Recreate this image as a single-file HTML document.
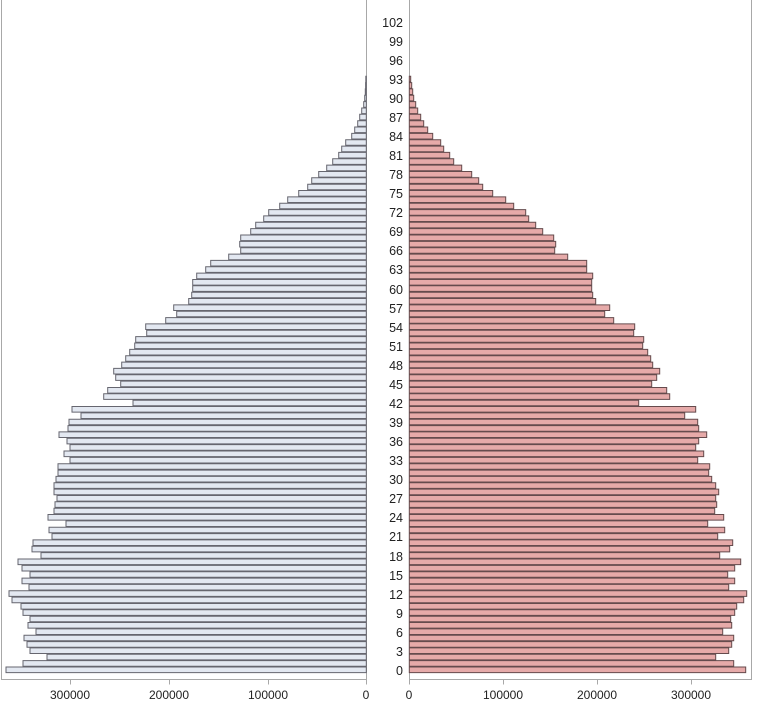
<!DOCTYPE html>
<html><head><meta charset="utf-8"><style>
html,body{margin:0;padding:0;background:#fff;}
svg{display:block;font-family:"Liberation Sans",Arial,sans-serif;}
</style></head><body>
<svg width="760" height="703" viewBox="0 0 760 703" xmlns="http://www.w3.org/2000/svg">
<g fill="none" stroke="#a8a8a8" stroke-width="1">
<path d="M1.5,0V679.5H366.5V0"/>
<path d="M409.5,0V679.5H751.5V0"/>
<path d="M70.5,679.5v5M169.5,679.5v5M268.5,679.5v5M366.5,679.5v5M409.5,679.5v5M503.5,679.5v5M597.5,679.5v5M691.5,679.5v5"/>
</g>
<g font-size="12" fill="#222" text-anchor="middle">
<text x="70" y="699">300000</text><text x="169" y="699">200000</text><text x="268" y="699">100000</text><text x="366" y="699">0</text>
<text x="409" y="699">0</text><text x="503" y="699">100000</text><text x="597" y="699">200000</text><text x="691" y="699">300000</text>
</g>
<g font-size="12.5" fill="#222" text-anchor="end">
<text x="403" y="675">0</text><text x="403" y="656">3</text><text x="403" y="637">6</text><text x="403" y="618">9</text>
<text x="403" y="599">12</text><text x="403" y="580">15</text><text x="403" y="561">18</text><text x="403" y="541">21</text>
<text x="403" y="522">24</text><text x="403" y="503">27</text><text x="403" y="484">30</text><text x="403" y="465">33</text>
<text x="403" y="446">36</text><text x="403" y="427">39</text><text x="403" y="408">42</text><text x="403" y="389">45</text>
<text x="403" y="370">48</text><text x="403" y="351">51</text><text x="403" y="332">54</text><text x="403" y="313">57</text>
<text x="403" y="294">60</text><text x="403" y="274">63</text><text x="403" y="255">66</text><text x="403" y="236">69</text>
<text x="403" y="217">72</text><text x="403" y="198">75</text><text x="403" y="179">78</text><text x="403" y="160">81</text>
<text x="403" y="141">84</text><text x="403" y="122">87</text><text x="403" y="103">90</text><text x="403" y="84">93</text>
<text x="403" y="65">96</text><text x="403" y="46">99</text><text x="403" y="27">102</text>
</g>
<path fill="#e3e8f1" stroke="#66666f" stroke-width="1" d="M6 667H366.3v5.6H6z M23 660.6H366.3v5.6H23z M47 654.3H366.3v5.6H47z M30 647.9H366.3v5.6H30z M27 641.6H366.3v5.6H27z M24 635.2H366.3v5.6H24z M36 628.9H366.3v5.6H36z M28 622.5H366.3v5.6H28z M30 616.2H366.3v5.6H30z M23 609.8H366.3v5.6H23z M21 603.5H366.3v5.6H21z M12 597.1H366.3v5.6H12z M9 590.8H366.3v5.6H9z M29 584.4H366.3v5.6H29z M22 578.1H366.3v5.6H22z M30 571.7H366.3v5.6H30z M22 565.4H366.3v5.6H22z M18 559H366.3v5.6H18z M41 552.6H366.3v5.6H41z M32 546.3H366.3v5.6H32z M33 539.9H366.3v5.6H33z M52 533.6H366.3v5.6H52z M49 527.2H366.3v5.6H49z M66 520.9H366.3v5.6H66z M48 514.5H366.3v5.6H48z M54 508.2H366.3v5.6H54z M55 501.8H366.3v5.6H55z M57 495.5H366.3v5.6H57z M54 489.1H366.3v5.6H54z M54 482.8H366.3v5.6H54z M56 476.4H366.3v5.6H56z M58 470.1H366.3v5.6H58z M58 463.7H366.3v5.6H58z M70 457.4H366.3v5.6H70z M64 451H366.3v5.6H64z M70 444.6H366.3v5.6H70z M67 438.3H366.3v5.6H67z M59 431.9H366.3v5.6H59z M68 425.6H366.3v5.6H68z M69 419.2H366.3v5.6H69z M81 412.9H366.3v5.6H81z M72 406.5H366.3v5.6H72z M133 400.2H366.3v5.6H133z M103.7 393.8H366.3v5.6H103.7z M107.7 387.5H366.3v5.6H107.7z M120.7 381.1H366.3v5.6H120.7z M115.7 374.8H366.3v5.6H115.7z M113.7 368.4H366.3v5.6H113.7z M121.7 362.1H366.3v5.6H121.7z M125.7 355.7H366.3v5.6H125.7z M129.7 349.4H366.3v5.6H129.7z M134.7 343H366.3v5.6H134.7z M135.7 336.6H366.3v5.6H135.7z M146.7 330.3H366.3v5.6H146.7z M145.7 323.9H366.3v5.6H145.7z M165.7 317.6H366.3v5.6H165.7z M176.7 311.2H366.3v5.6H176.7z M173.7 304.9H366.3v5.6H173.7z M188.7 298.5H366.3v5.6H188.7z M191.7 292.2H366.3v5.6H191.7z M192.7 285.8H366.3v5.6H192.7z M192.7 279.5H366.3v5.6H192.7z M196.7 273.1H366.3v5.6H196.7z M205.7 266.8H366.3v5.6H205.7z M210.7 260.4H366.3v5.6H210.7z M228.7 254.1H366.3v5.6H228.7z M240.7 247.7H366.3v5.6H240.7z M239.7 241.4H366.3v5.6H239.7z M240.7 235H366.3v5.6H240.7z M250.7 228.6H366.3v5.6H250.7z M255.7 222.3H366.3v5.6H255.7z M263.7 215.9H366.3v5.6H263.7z M268.7 209.6H366.3v5.6H268.7z M279.7 203.2H366.3v5.6H279.7z M287.7 196.9H366.3v5.6H287.7z M298.7 190.5H366.3v5.6H298.7z M307.7 184.2H366.3v5.6H307.7z M311.7 177.8H366.3v5.6H311.7z M318.7 171.5H366.3v5.6H318.7z M326.7 165.1H366.3v5.6H326.7z M332.7 158.8H366.3v5.6H332.7z M338.7 152.4H366.3v5.6H338.7z M341.7 146.1H366.3v5.6H341.7z M345.7 139.7H366.3v5.6H345.7z M351.7 133.4H366.3v5.6H351.7z M354.7 127H366.3v5.6H354.7z M357.7 120.7H366.3v5.6H357.7z M359.7 114.3H366.3v5.6H359.7z M361.7 108H366.3v5.6H361.7z M363.7 101.6H366.3v5.6H363.7z M364.7 95.3H366.3v5.6H364.7z M365.3 88.9H366.3v5.6H365.3z M365.6 82.6H366.3v5.6H365.6z M365.8 76.2H366.3v5.6H365.8z"/>
<path fill="#e6aaa9" stroke="#654b4d" stroke-width="1" d="M409.3 667H745.7v5.6H409.3z M409.3 660.6H733.7v5.6H409.3z M409.3 654.3H715.7v5.6H409.3z M409.3 647.9H728.7v5.6H409.3z M409.3 641.6H731.7v5.6H409.3z M409.3 635.2H733.7v5.6H409.3z M409.3 628.9H722.7v5.6H409.3z M409.3 622.5H731.7v5.6H409.3z M409.3 616.2H730.7v5.6H409.3z M409.3 609.8H734.7v5.6H409.3z M409.3 603.5H736.7v5.6H409.3z M409.3 597.1H743.7v5.6H409.3z M409.3 590.8H746.7v5.6H409.3z M409.3 584.4H728.7v5.6H409.3z M409.3 578.1H734.7v5.6H409.3z M409.3 571.7H727.7v5.6H409.3z M409.3 565.4H734.7v5.6H409.3z M409.3 559H740.7v5.6H409.3z M409.3 552.6H719.7v5.6H409.3z M409.3 546.3H729.7v5.6H409.3z M409.3 539.9H732.7v5.6H409.3z M409.3 533.6H717.7v5.6H409.3z M409.3 527.2H724.7v5.6H409.3z M409.3 520.9H707.7v5.6H409.3z M409.3 514.5H723.7v5.6H409.3z M409.3 508.2H714.7v5.6H409.3z M409.3 501.8H716.7v5.6H409.3z M409.3 495.5H715.7v5.6H409.3z M409.3 489.1H718.7v5.6H409.3z M409.3 482.8H715.7v5.6H409.3z M409.3 476.4H711.7v5.6H409.3z M409.3 470.1H708.7v5.6H409.3z M409.3 463.7H709.7v5.6H409.3z M409.3 457.4H697.7v5.6H409.3z M409.3 451H703.7v5.6H409.3z M409.3 444.6H695.7v5.6H409.3z M409.3 438.3H698.7v5.6H409.3z M409.3 431.9H706.7v5.6H409.3z M409.3 425.6H698.7v5.6H409.3z M409.3 419.2H697.7v5.6H409.3z M409.3 412.9H684.7v5.6H409.3z M409.3 406.5H695.7v5.6H409.3z M409.3 400.2H638.7v5.6H409.3z M409.3 393.8H669.7v5.6H409.3z M409.3 387.5H666.7v5.6H409.3z M409.3 381.1H651.7v5.6H409.3z M409.3 374.8H656.7v5.6H409.3z M409.3 368.4H659.7v5.6H409.3z M409.3 362.1H652.7v5.6H409.3z M409.3 355.7H650.7v5.6H409.3z M409.3 349.4H647.7v5.6H409.3z M409.3 343H642.7v5.6H409.3z M409.3 336.6H643.7v5.6H409.3z M409.3 330.3H633.7v5.6H409.3z M409.3 323.9H634.7v5.6H409.3z M409.3 317.6H613.7v5.6H409.3z M409.3 311.2H604.7v5.6H409.3z M409.3 304.9H609.7v5.6H409.3z M409.3 298.5H595.7v5.6H409.3z M409.3 292.2H592.7v5.6H409.3z M409.3 285.8H591.7v5.6H409.3z M409.3 279.5H591.7v5.6H409.3z M409.3 273.1H592.7v5.6H409.3z M409.3 266.8H586.7v5.6H409.3z M409.3 260.4H586.7v5.6H409.3z M409.3 254.1H567.7v5.6H409.3z M409.3 247.7H554.7v5.6H409.3z M409.3 241.4H555.7v5.6H409.3z M409.3 235H553.7v5.6H409.3z M409.3 228.6H542.7v5.6H409.3z M409.3 222.3H535.7v5.6H409.3z M409.3 215.9H528.7v5.6H409.3z M409.3 209.6H525.7v5.6H409.3z M409.3 203.2H513.7v5.6H409.3z M409.3 196.9H505.7v5.6H409.3z M409.3 190.5H492.7v5.6H409.3z M409.3 184.2H482.7v5.6H409.3z M409.3 177.8H478.7v5.6H409.3z M409.3 171.5H471.7v5.6H409.3z M409.3 165.1H461.7v5.6H409.3z M409.3 158.8H453.7v5.6H409.3z M409.3 152.4H449.7v5.6H409.3z M409.3 146.1H443.7v5.6H409.3z M409.3 139.7H440.7v5.6H409.3z M409.3 133.4H432.7v5.6H409.3z M409.3 127H427.7v5.6H409.3z M409.3 120.7H423.7v5.6H409.3z M409.3 114.3H420.7v5.6H409.3z M409.3 108H417.7v5.6H409.3z M409.3 101.6H415.7v5.6H409.3z M409.3 95.3H413.7v5.6H409.3z M409.3 88.9H412.7v5.6H409.3z M409.3 82.6H411.7v5.6H409.3z M409.3 76.2H410.7v5.6H409.3z"/>
</svg>
</body></html>
